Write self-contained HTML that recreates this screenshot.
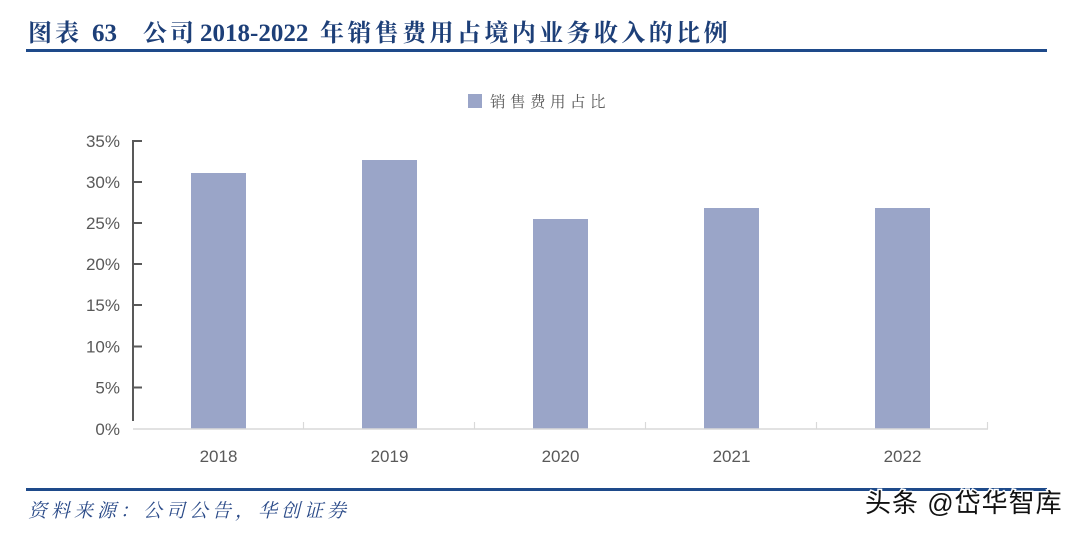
<!DOCTYPE html>
<html>
<head>
<meta charset="utf-8">
<style>
html,body{margin:0;padding:0;background:#fff;}
body{width:1080px;height:535px;position:relative;overflow:hidden;}
svg{position:absolute;left:0;top:0;}
</style>
</head>
<body>
<svg width="1080" height="535" viewBox="0 0 1080 535" xmlns="http://www.w3.org/2000/svg">
  <rect width="1080" height="535" fill="#fff"/>
  <!-- Title -->
  <g font-family="'Liberation Serif','Noto Serif CJK SC',serif" font-weight="bold" fill="#1d3f78" font-size="24">
    <text x="28" y="41" letter-spacing="3">图表</text>
    <text x="92" y="41" font-size="25">63</text>
    <text x="143" y="41" letter-spacing="3">公司</text>
    <text x="200" y="41" font-size="25">2018-2022</text>
    <text x="320" y="41" letter-spacing="3.4">年销售费用占境内业务收入的比例</text>
  </g>
  <rect x="26" y="49" width="1021" height="3" fill="#1e4a8a"/>

  <!-- Legend -->
  <rect x="468" y="94" width="14" height="14" fill="#9aa5c8"/>
  <text x="490" y="107" font-family="'Liberation Serif','Noto Serif CJK SC',serif" font-size="15.5" letter-spacing="4.5" fill="#595959">销售费用占比</text>

  <!-- Bars -->
  <g fill="#9aa5c8">
    <rect x="191" y="173" width="55" height="256"/>
    <rect x="362" y="160" width="55" height="269"/>
    <rect x="533" y="219" width="55" height="210"/>
    <rect x="704" y="208" width="55" height="221"/>
    <rect x="875" y="208" width="55" height="221"/>
  </g>

  <!-- X axis -->
  <line x1="133" y1="429" x2="988" y2="429" stroke="#d9d9d9" stroke-width="1.5"/>
  <g stroke="#d9d9d9" stroke-width="1.2">
    <line x1="303.5" y1="422" x2="303.5" y2="429"/>
    <line x1="474.5" y1="422" x2="474.5" y2="429"/>
    <line x1="645.5" y1="422" x2="645.5" y2="429"/>
    <line x1="816.5" y1="422" x2="816.5" y2="429"/>
    <line x1="987.5" y1="422" x2="987.5" y2="429"/>
  </g>

  <!-- Y axis -->
  <line x1="133" y1="140" x2="133" y2="421" stroke="#595959" stroke-width="2"/>
  <g stroke="#595959" stroke-width="2">
    <line x1="133" y1="141" x2="142" y2="141"/>
    <line x1="133" y1="182" x2="142" y2="182"/>
    <line x1="133" y1="223" x2="142" y2="223"/>
    <line x1="133" y1="264" x2="142" y2="264"/>
    <line x1="133" y1="305" x2="142" y2="305"/>
    <line x1="133" y1="346.5" x2="142" y2="346.5"/>
    <line x1="133" y1="387.5" x2="142" y2="387.5"/>
  </g>
  <g font-family="'Liberation Sans',sans-serif" font-size="17" fill="#595959" text-anchor="end">
    <text x="120" y="147">35%</text>
    <text x="120" y="188">30%</text>
    <text x="120" y="229">25%</text>
    <text x="120" y="270">20%</text>
    <text x="120" y="311">15%</text>
    <text x="120" y="352.5">10%</text>
    <text x="120" y="393.5">5%</text>
    <text x="120" y="435">0%</text>
  </g>
  <g font-family="'Liberation Sans',sans-serif" font-size="17" fill="#595959" text-anchor="middle">
    <text x="218.5" y="462">2018</text>
    <text x="389.5" y="462">2019</text>
    <text x="560.5" y="462">2020</text>
    <text x="731.5" y="462">2021</text>
    <text x="902.5" y="462">2022</text>
  </g>

  <!-- Bottom line -->
  <rect x="26" y="488" width="1021" height="3" fill="#1e4a8a"/>

  <!-- Source -->
  <text x="28" y="517" font-family="'Liberation Serif','Noto Serif CJK SC',serif" font-style="italic" font-size="19" letter-spacing="4" fill="#2a4a88">资料来源：公司公告，华创证券</text>

  <!-- Watermark -->
  <text x="865" y="512" font-family="'Liberation Sans','Noto Sans CJK SC',sans-serif" font-size="26" letter-spacing="1" fill="#fff" stroke="#fff" stroke-width="3">头条 @岱华智库</text>
  <text x="865" y="512" font-family="'Liberation Sans','Noto Sans CJK SC',sans-serif" font-size="26" letter-spacing="1" fill="#111">头条 @岱华智库</text>
</svg>
</body>
</html>
